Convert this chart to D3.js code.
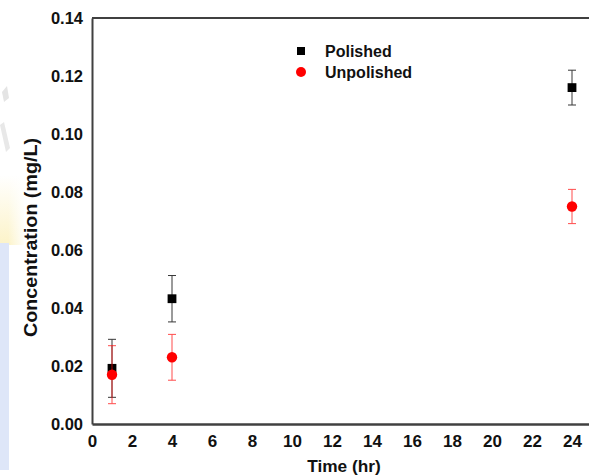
<!DOCTYPE html>
<html>
<head>
<meta charset="utf-8">
<script src="https://cdn.jsdelivr.net/npm/d3@7"></script>
<style>
  html, body { margin: 0; padding: 0; background: #fff; }
  svg { display: block; font-family: "Liberation Sans", Arial, sans-serif; }
</style>
</head>
<body>
<svg id="chart" width="589" height="476"></svg>
<script>
// Data
const times = [1, 4, 24];
const polishedMean = [0.0192, 0.0432, 0.1160];
const polishedErr = [0.0100, 0.0080, 0.0060];
const unpolishedMean = [0.0170, 0.0230, 0.0750];
const unpolishedErr = [0.0100, 0.0079, 0.0059];
const xTicks = [0, 2, 4, 6, 8, 10, 12, 14, 16, 18, 20, 22, 24];
const yTicks = [0, 0.02, 0.04, 0.06, 0.08, 0.10, 0.12, 0.14];
const seriesNames = ["Polished", "Unpolished"];

const svg = d3.select("#chart");
const W = 589, H = 476;
const mLeft = 92, mTop = 18, mBottom = 424;
const FONT = "Liberation Sans, Arial, sans-serif";

// faint watermark at left edge
const defs = svg.append("defs");
const gy1 = defs.append("linearGradient").attr("id", "wmY").attr("x1", 0).attr("y1", 0).attr("x2", 0).attr("y2", 1);
gy1.append("stop").attr("offset", "0").attr("stop-color", "#fcf3c8").attr("stop-opacity", 0);
gy1.append("stop").attr("offset", "1").attr("stop-color", "#fcf3c8").attr("stop-opacity", 1);
const gy2 = defs.append("linearGradient").attr("id", "wmX").attr("x1", 0).attr("y1", 0).attr("x2", 1).attr("y2", 0);
gy2.append("stop").attr("offset", "0").attr("stop-color", "#fff").attr("stop-opacity", 0);
gy2.append("stop").attr("offset", "1").attr("stop-color", "#fff").attr("stop-opacity", 1);
svg.append("rect").attr("x", 0).attr("y", 175).attr("width", 24).attr("height", 70).attr("fill", "url(#wmY)");
svg.append("rect").attr("x", 8).attr("y", 175).attr("width", 18).attr("height", 70).attr("fill", "url(#wmX)");
svg.append("rect").attr("x", 0).attr("y", 243).attr("width", 9).attr("height", 227).attr("fill", "#dee6f8");
svg.append("path").attr("d", "M2,92 L7,86 L9,98 L4,102 Z").attr("fill", "#e4e4e4");
svg.append("path").attr("d", "M0,125 L4,122 L10,148 L6,152 Z").attr("fill", "#e8e8e8");

const x = d3.scaleLinear().domain([0, 24.85]).range([mLeft, W]);
const y = d3.scaleLinear().domain([0, 0.14]).range([mBottom, mTop]);

// frame lines
const axisColor = "#404040";
svg.append("line").attr("x1", x(0)).attr("x2", W).attr("y1", y(0.14)).attr("y2", y(0.14))
  .attr("stroke", axisColor).attr("stroke-width", 2);

const xAxis = d3.axisBottom(x).tickValues(xTicks).tickSize(0).tickPadding(11).tickFormat(d3.format("d"));
const gx = svg.append("g").attr("transform", `translate(0,${mBottom})`).call(xAxis);
gx.select(".domain").attr("stroke", axisColor).attr("stroke-width", 2.4);
gx.selectAll("text").attr("font-size", 17).attr("font-weight", "bold").attr("fill", "#111")
  .attr("font-family", FONT);

const yAxis = d3.axisLeft(y).tickValues(yTicks).tickSize(0).tickPadding(9).tickFormat(d3.format(".2f"));
const gy = svg.append("g").attr("transform", `translate(${mLeft},0)`).call(yAxis);
gy.select(".domain").attr("stroke", axisColor).attr("stroke-width", 2);
gy.selectAll("text").attr("font-size", 16.5).attr("font-weight", "bold").attr("fill", "#111")
  .attr("font-family", FONT);

// axis titles
svg.append("text").attr("x", 344).attr("y", 472).attr("text-anchor", "middle")
  .attr("font-size", 17.3).attr("font-weight", "bold").attr("fill", "#111").text("Time (hr)");
svg.append("text").attr("transform", `translate(37,${237.5}) rotate(-90)`).attr("text-anchor", "middle")
  .attr("font-size", 17.5).attr("font-weight", "bold").attr("fill", "#111")
  .attr("textLength", 199).attr("lengthAdjust", "spacingAndGlyphs").text("Concentration (mg/L)");

function errorBars(means, errs, color, opacity) {
  const g = svg.append("g").attr("stroke", color).attr("stroke-width", 1).attr("opacity", opacity);
  times.forEach((t, i) => {
    const cx = x(t);
    g.append("line").attr("x1", cx).attr("x2", cx).attr("y1", y(means[i] + errs[i])).attr("y2", y(means[i] - errs[i]));
    [means[i] + errs[i], means[i] - errs[i]].forEach(v => {
      g.append("line").attr("x1", cx - 4).attr("x2", cx + 4).attr("y1", y(v)).attr("y2", y(v));
    });
  });
}

// polished
errorBars(polishedMean, polishedErr, "#222", 0.9);
svg.append("g").selectAll("rect").data(times).join("rect")
  .attr("x", (d) => x(d) - 4.4).attr("y", (d, i) => y(polishedMean[i]) - 4.4)
  .attr("width", 8.8).attr("height", 8.8).attr("fill", "#000");

// unpolished
errorBars(unpolishedMean, unpolishedErr, "#ff0000", 0.7);
svg.append("g").selectAll("circle").data(times).join("circle")
  .attr("cx", (d) => x(d)).attr("cy", (d, i) => y(unpolishedMean[i]))
  .attr("r", 5.2).attr("fill", "#ff0000");

// legend
const lg = svg.append("g");
lg.append("rect").attr("x", 301 - 4).attr("y", 51 - 4).attr("width", 8).attr("height", 8).attr("fill", "#000");
lg.append("circle").attr("cx", 301).attr("cy", 72).attr("r", 5).attr("fill", "#ff0000");
lg.selectAll("text").data(seriesNames).join("text")
  .attr("x", 325).attr("y", (d, i) => 57 + i * 21)
  .attr("font-size", 16).attr("font-weight", "bold").attr("fill", "#111").text(d => d);
</script>
</body>
</html>
